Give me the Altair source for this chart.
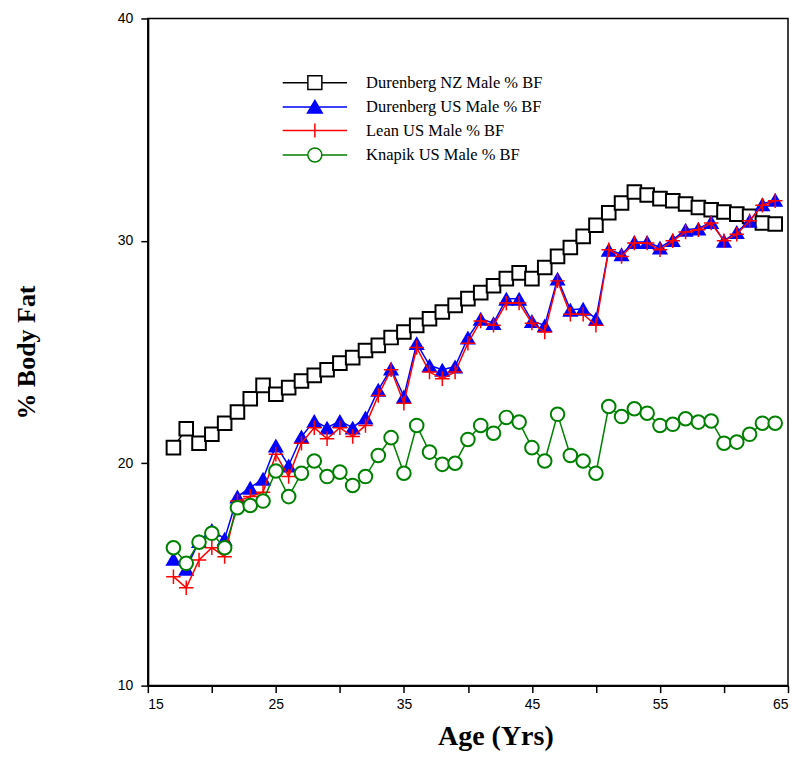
import altair as alt
import pandas as pd

ages = list(range(17, 65))

durenberg_nz = [20.7, 21.55, 20.9, 21.3, 21.8, 22.3, 22.9, 23.5, 23.1, 23.4,
                23.7, 23.95, 24.2, 24.5, 24.75, 25.07, 25.3, 25.65, 25.9, 26.2,
                26.5, 26.8, 27.1, 27.4, 27.67, 27.98, 28.3, 28.56, 28.3, 28.8,
                29.3, 29.7, 30.2, 30.7, 31.26, 31.7, 32.2, 32.06, 31.9, 31.8,
                31.66, 31.5, 31.4, 31.3, 31.2, 31.1, 30.8, 30.76]

durenberg_us = [15.7, 15.25, 16.5, 17.0, 16.6, 18.5, 18.9, 19.3, 20.8, 19.9,
                21.2, 21.9, 21.6, 21.9, 21.6, 22.06, 23.3, 24.26, 23.0, 25.4,
                24.4, 24.2, 24.35, 25.65, 26.5, 26.3, 27.4, 27.4, 26.4, 26.2,
                28.3, 26.9, 26.95, 26.5, 29.6, 29.4, 29.95, 29.95, 29.7, 30.04,
                30.5, 30.55, 30.85, 30.0, 30.4, 30.9, 31.65, 31.85]

lean_us = [14.9, 14.4, 15.65, 16.2, 15.8, 18.3, 18.5, 18.7, 20.4, 19.4,
           20.9, 21.6, 21.1, 21.6, 21.2, 21.7, 23.05, 24.2, 22.7, 25.2,
           24.1, 23.8, 24.1, 25.4, 26.4, 26.2, 27.2, 27.2, 26.3, 25.9,
           28.2, 26.7, 26.7, 26.2, 29.6, 29.3, 29.9, 29.9, 29.6, 30.0,
           30.4, 30.5, 30.8, 30.0, 30.3, 30.9, 31.6, 31.8]

knapik_us = [16.2, 15.5, 16.45, 16.85, 16.2, 18.0, 18.1, 18.3, 19.65, 18.5,
             19.55, 20.1, 19.4, 19.6, 19.0, 19.4, 20.35, 21.15, 19.55, 21.7,
             20.5, 19.95, 20.0, 21.07, 21.7, 21.35, 22.06, 21.85, 20.7, 20.1,
             22.2, 20.35, 20.1, 19.55, 22.55, 22.1, 22.45, 22.25, 21.7, 21.75,
             22.0, 21.85, 21.9, 20.9, 20.95, 21.3, 21.8, 21.8]

series_names = ["Durenberg NZ Male % BF", "Durenberg US Male % BF",
                "Lean US Male % BF", "Knapik US Male % BF"]
series_values = [durenberg_nz, durenberg_us, lean_us, knapik_us]

x_ticks = [15, 20, 25, 30, 35, 40, 45, 50, 55, 60, 65]
y_ticks = [10, 20, 30, 40]

# styling
colors = ["#000000", "#0000ff", "#ff0000", "#008000"]
fills = ["#ffffff", "#0000ff", "transparent", "#ffffff"]
plus_path = "M-1,0H1M0,-1V1"
mark_shapes = ["square", "triangle-up", plus_path, "circle"]
mark_sizes = [185, 260, 210, 185]
L = "4.6"
legend_paths = [
    f"M-{L},0H-1M1,0H{L}M-1,-1H1V1H-1Z",
    f"M-{L},0H{L}M0,-0.95L1.05,0.85H-1.05Z",
    f"M-{L},0H{L}M0,-1V1",
    f"M-{L},0H-1M1,0H{L}M1,0A1,1 0 1,1 -1,0A1,1 0 1,1 1,0Z",
]

rows = []
for name, vals in zip(series_names, series_values):
    for a, v in zip(ages, vals):
        rows.append({"age": a, "bf": v, "series": name})
df = pd.DataFrame(rows)

x_enc = alt.X(
    "age:Q",
    scale=alt.Scale(domain=[15, 65], nice=False, zero=False),
    axis=alt.Axis(
        values=x_ticks,
        labelExpr="datum.value % 10 == 5 ? datum.label : ''",
        title="Age (Yrs)",
        titleFont="Liberation Serif",
        titleFontSize=28,
        titleFontWeight="bold",
        titlePadding=11,
        titleX=348,
        labelPadding=5,
    ),
)
y_enc = alt.Y(
    "bf:Q",
    scale=alt.Scale(domain=[10, 40], nice=False, zero=False),
    axis=alt.Axis(
        values=y_ticks,
        title="% Body Fat",
        titleFont="Liberation Serif",
        titleFontSize=26,
        titleFontWeight="bold",
        titlePadding=78,
        labelPadding=8,
    ),
)

layers = []
for i, name in enumerate(series_names):
    base = alt.Chart(df).transform_filter(alt.datum.series == name)
    line = base.mark_line(color=colors[i], strokeWidth=1.5).encode(x=x_enc, y=y_enc)
    if i == 1:
        pts = base.mark_point(
            shape="triangle-up", size=mark_sizes[i], filled=True,
            color=colors[i], opacity=1,
        ).encode(x=x_enc, y=y_enc)
    else:
        pts = base.mark_point(
            shape=mark_shapes[i],
            size=mark_sizes[i],
            stroke=colors[i],
            fill=fills[i],
            filled=False,
            fillOpacity=1,
            strokeWidth=2 if i in (0, 3) else 1.5,
            opacity=1,
        ).encode(x=x_enc, y=y_enc)
    layers += [line, pts]

legend_def = alt.Legend(
    orient="none",
    legendX=159,
    legendY=56,
    title=None,
    labelFont="Liberation Serif",
    labelFontSize=16.5,
    labelColor="black",
    labelOffset=43,
    labelLimit=0,
    symbolSize=196,
    symbolStrokeWidth=1.5,
    symbolOpacity=1,
    rowPadding=3.5,
    padding=0,
)
legend_layer = alt.Chart(pd.DataFrame({"series": series_names})).mark_point(
    opacity=0
).encode(
    shape=alt.Shape("series:N", scale=alt.Scale(domain=series_names, range=legend_paths),
                    legend=legend_def, sort=series_names),
    stroke=alt.Stroke("series:N", scale=alt.Scale(domain=series_names, range=colors),
                      legend=legend_def, sort=series_names),
    fill=alt.Fill("series:N", scale=alt.Scale(domain=series_names, range=fills),
                  legend=legend_def, sort=series_names),
)

chart = alt.layer(*layers, legend_layer).properties(
    width=641,
    height=668,
    padding={"left": 5, "top": 3, "right": 5, "bottom": 5},
).configure_view(
    stroke="black", strokeWidth=1.5
).configure_axis(
    grid=False,
    domainColor="black",
    domainWidth=2,
    tickColor="black",
    tickWidth=1.5,
    tickSize=7,
    labelFont="Liberation Sans",
    labelFontSize=14,
    labelColor="black",
    titleColor="black",
)

chart.save("out.html", embed_options={"renderer": "svg", "actions": False})
